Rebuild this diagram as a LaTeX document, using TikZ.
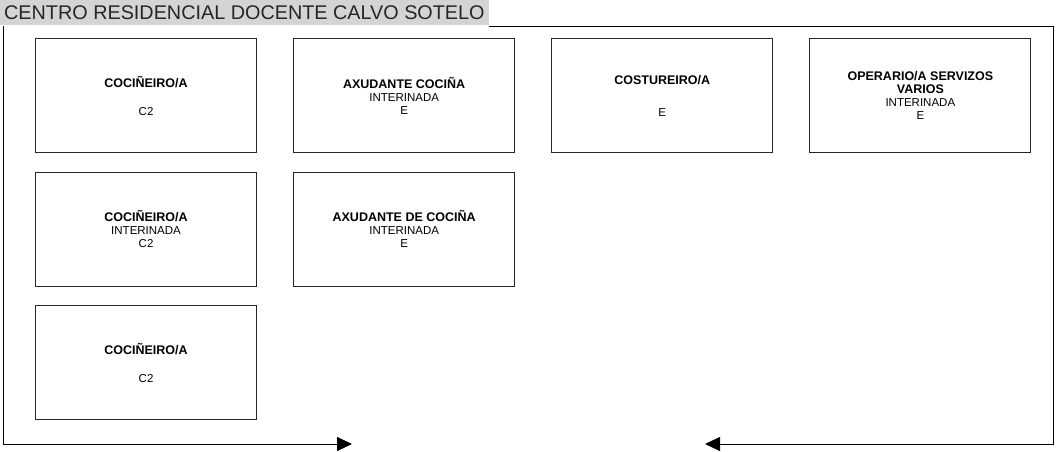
\documentclass[tikz,border=0pt]{standalone}
\usepackage{fontspec}
\setmainfont{Liberation Sans}
\usetikzlibrary{positioning,arrows.meta}

\newcommand{\posto}[1]{{\bfseries\fontsize{12.5}{13}\selectfont #1}}

\tikzset{
  post/.style={draw=black!85, line width=1.1pt, minimum width=221pt, minimum height=114pt,
               align=center, inner sep=0pt, font=\fontsize{11.5}{13}\selectfont},
  frame/.style={draw=black, line width=0.9pt},
  tip/.style={-{Triangle[length=15pt,width=14pt]}}
}

\begin{document}
\begin{tikzpicture}[x=1pt, y=-1pt, node distance=18.5pt and 36pt]
    \useasboundingbox (0,0) rectangle (1056,451);
    \node[fill=black!17, anchor=north west, inner xsep=4pt, inner ysep=0pt, minimum height=25pt,
          text=black!85, font=\fontsize{19.8}{20}\selectfont] (title) at (0,0)
          {CENTRO RESIDENCIAL DOCENTE CALVO SOTELO};

    % primera fila
    \node[post, anchor=north west] (coc1) at (35,38) {\posto{COCIÑEIRO/A}\\[15pt] C2};
    \node[post, right=of coc1] (axu1) {\posto{AXUDANTE COCIÑA}\\ INTERINADA\\ E};
    \node[post, right=of axu1] (cost) {\posto{COSTUREIRO/A}\\[19pt] E};
    \node[post, right=of cost] (oper) {\posto{OPERARIO/A SERVIZOS}\\ \posto{VARIOS}\\ INTERINADA\\ E};

    % segunda fila
    \node[post, below=of coc1] (coc2) {\posto{COCIÑEIRO/A}\\ INTERINADA\\ C2};
    \node[post, below=of axu1] (axu2) {\posto{AXUDANTE DE COCIÑA}\\ INTERINADA\\ E};

    % terceira fila
    \node[post, below=of coc2] (coc3) {\posto{COCIÑEIRO/A}\\[15pt] C2};

    % marco con frechas
    \coordinate (tl) at (3,26);
    \coordinate (bl) at (3,444);
    \coordinate (la) at (352,444);
    \coordinate (tr) at (1053,26);
    \coordinate (br) at (1053,444);
    \coordinate (ra) at (705,444);
    \draw[frame, tip] (tl) -- (bl) -- (la);
    \draw[frame, tip] (title.south east |- tr) -- (tr) -- (br) -- (ra);
\end{tikzpicture}
\end{document}
